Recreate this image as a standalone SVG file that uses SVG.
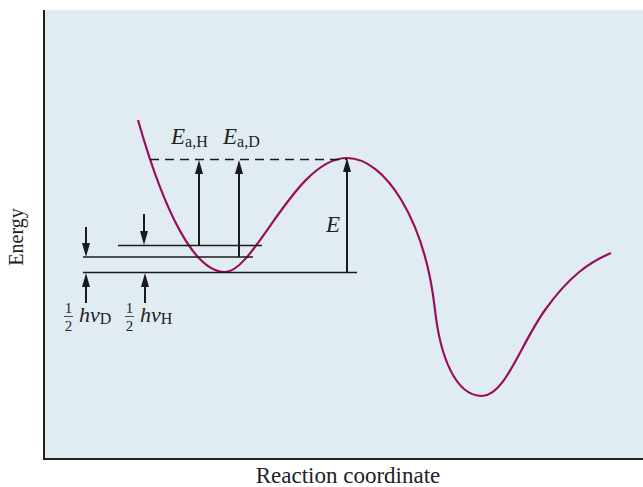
<svg xmlns="http://www.w3.org/2000/svg" width="643" height="487" viewBox="0 0 643 487">
<defs>
<marker id="ah" markerUnits="userSpaceOnUse" markerWidth="14" markerHeight="9" refX="5" refY="4.5" orient="auto" viewBox="0 0 14 9">
<path d="M0,0.5 L14,4.5 L0,8.5 Z" fill="#1a1a1a"/>
</marker>
<style>
.lvl{stroke:#1a1a1a;stroke-width:1.6;fill:none}
.arr{stroke:#1a1a1a;stroke-width:2;fill:none;marker-end:url(#ah)}
.curve{stroke:#990f5c;stroke-width:2.2;fill:none}
.t{font-family:"Liberation Serif","Times New Roman",serif;fill:#222}
.it{font-style:italic}
</style>
</defs>
<rect id="panel" x="44" y="10" width="599" height="449" fill="#e1ecf2"/>
<g id="axes" stroke="#222" stroke-width="2" fill="none">
<path d="M44,10 V459 H643"/>
</g>
<g id="curve">
<path class="curve" d="M138,120 C165,215 195,272 225,272 C255,272 295,158 347,158 C385,158 425,220 435,310 C440,355 455,396 482,396 C505,396 520,345 545,310 S590,262 611,253"/>
</g>
<g id="levels">
<line class="lvl" x1="83" y1="272.5" x2="357" y2="272.5"/>
<line class="lvl" x1="83" y1="257" x2="253" y2="257"/>
<line class="lvl" x1="118" y1="245.5" x2="262" y2="245.5"/>
<line class="lvl" x1="150" y1="159.5" x2="347" y2="159.5" stroke-dasharray="9,6"/>
</g>
<g id="connectors">
<line class="arr" x1="199" y1="245" x2="199" y2="169"/>
<line class="arr" x1="239" y1="257" x2="239" y2="169"/>
<line class="arr" x1="347" y1="272" x2="347" y2="167"/>
<line class="arr" x1="86" y1="227" x2="86" y2="248"/>
<line class="arr" x1="144" y1="214" x2="144" y2="236"/>
<line class="arr" x1="86" y1="303" x2="86" y2="282"/>
<line class="arr" x1="145" y1="303" x2="145" y2="282"/>
</g>
<g id="labels">
<text class="t it" x="171" y="144" font-size="23">E<tspan font-style="normal" font-size="16" dy="3">a,H</tspan></text>
<text class="t it" x="223" y="144" font-size="23">E<tspan font-style="normal" font-size="16" dy="3">a,D</tspan></text>
<text class="t it" x="326" y="232" font-size="23">E</text>
<g id="halfD">
<text class="t" x="68.5" y="313" font-size="15" text-anchor="middle">1</text>
<line x1="64" y1="316.5" x2="73" y2="316.5" stroke="#222" stroke-width="0.8"/>
<text class="t" x="68.5" y="331" font-size="15" text-anchor="middle">2</text>
<text class="t it" x="79" y="322" font-size="22">hν<tspan font-style="normal" font-size="16" dy="2">D</tspan></text>
</g>
<g id="halfH">
<text class="t" x="129.5" y="313" font-size="15" text-anchor="middle">1</text>
<line x1="125" y1="316.5" x2="134" y2="316.5" stroke="#222" stroke-width="0.8"/>
<text class="t" x="129.5" y="331" font-size="15" text-anchor="middle">2</text>
<text class="t it" x="140" y="322" font-size="22">hν<tspan font-style="normal" font-size="16" dy="2">H</tspan></text>
</g>
<text class="t" x="348" y="483" font-size="23" text-anchor="middle">Reaction coordinate</text>
<text class="t" transform="translate(23,237) rotate(-90)" font-size="20" text-anchor="middle">Energy</text>
</g>
</svg>
